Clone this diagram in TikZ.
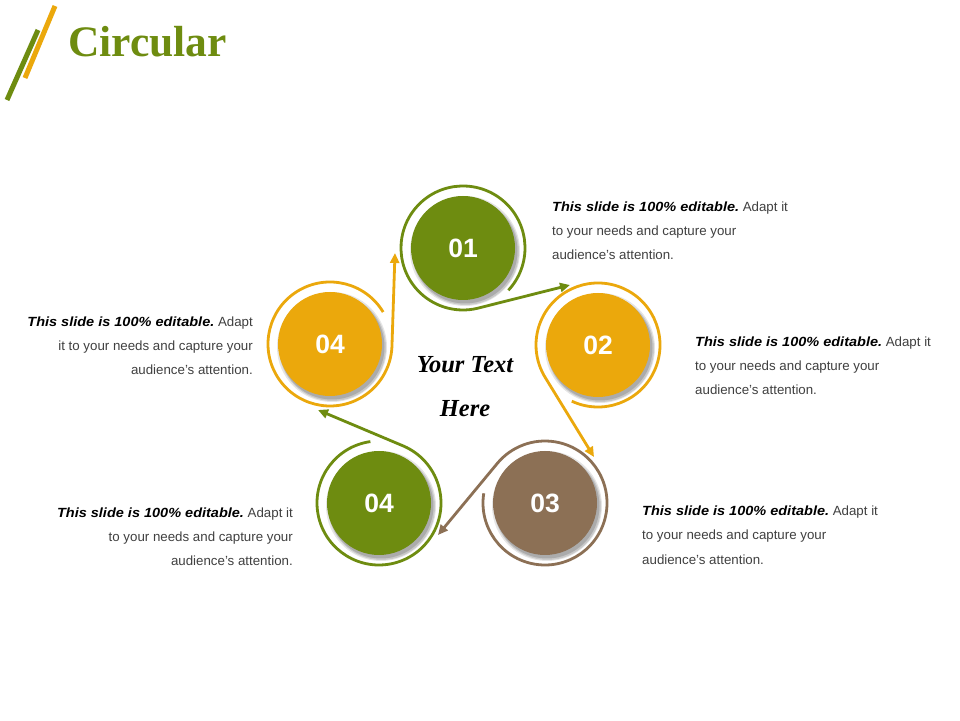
\documentclass[tikz,border=0pt]{standalone}
\usepackage{fontspec}
\usepackage{graphicx}
\setmainfont{Liberation Sans}
\newfontfamily\titlefont{Liberation Serif}
\usetikzlibrary{arrows.meta,calc}
\definecolor{cgreen}{RGB}{110,140,16}
\definecolor{corange}{RGB}{235,168,12}
\definecolor{cbrown}{RGB}{140,112,85}
\definecolor{ctext}{RGB}{64,64,64}
\tikzset{
  disc/.style={circle, inner sep=0pt, minimum size=104pt, text=white,
    font=\fontsize{26.5}{30}\selectfont\bfseries},
  ring/.style={line width=2.8pt},
  desc/.style={inner sep=0pt, text=ctext, font=\fontsize{13.3}{24}\selectfont},
  bar/.style={line width=5pt},
  centretext/.style={anchor=base, inner sep=0pt, font=\titlefont\fontsize{24.5}{28}\selectfont\bfseries\itshape},
}
\newcommand{\lead}{\textcolor{black}{\scalebox{1.09}[1]{\bfseries\itshape This slide is 100\% editable.}}}
\begin{document}
\begin{tikzpicture}[x=1pt,y=1pt]
\useasboundingbox (0,0) rectangle (960,720);
\fill[white] (0,0) rectangle (960,720);
% title
\draw[bar, cgreen] (7,620) -- (38,690);
\draw[bar, corange] (25,642) -- (55,714);
\node[anchor=base west, inner sep=0pt, text=cgreen, font=\titlefont\fontsize{43.5}{48}\selectfont\bfseries] (title) at (68,663) {Circular};
% centres
\coordinate (p1) at (463,472);
\coordinate (p2) at (598,375);
\coordinate (p3) at (545,217);
\coordinate (p4) at (379,217);
\coordinate (p5) at (330,376);
% shadows
\foreach \p in {p1,p2,p3,p4,p5}{
  \fill[black, opacity=0.10] ($(\p)+(2,-3)$) circle[radius=55];
  \fill[black, opacity=0.12] ($(\p)+(2.5,-3.5)$) circle[radius=53.5];
  \fill[black, opacity=0.15] ($(\p)+(2,-3)$) circle[radius=52.5];
}
% discs
\node[disc, fill=cgreen] (c1) at (p1) {01};
\node[disc, fill=corange] (c2) at (p2) {02};
\node[disc, fill=cbrown] (c3) at (p3) {03};
\node[disc, fill=cgreen] (c4) at (p4) {04};
\node[disc, fill=corange] (c5) at (p5) {04};
% arrow tips
\coordinate (t1) at (570,435);
\coordinate (t2) at (594,263);
\coordinate (t3) at (438,185);
\coordinate (t4) at (318,310);
\coordinate (t5) at (395,467);
% rings with connectors
\draw[ring, draw=cgreen, -{Triangle[length=10pt,width=9pt,fill=cgreen]}] ($(c1.center)+(-43:62)$) arc[start angle=-43, end angle=283.5, radius=62] -- (t1);
\draw[ring, draw=corange, -{Triangle[length=10pt,width=9pt,fill=corange]}] ($(c2.center)+(245:62)$) arc[start angle=245, end angle=572.7, radius=62] -- (t2);
\draw[ring, draw=cbrown, -{Triangle[length=10pt,width=9pt,fill=cbrown]}] ($(c3.center)+(171:62)$) arc[start angle=171, end angle=500, radius=62] -- (t3);
\draw[ring, draw=cgreen, -{Triangle[length=10pt,width=9pt,fill=cgreen]}] ($(c4.center)+(98:62)$) arc[start angle=98, end angle=427, radius=62] -- (t4);
\draw[ring, draw=corange, -{Triangle[length=10pt,width=9pt,fill=corange]}] ($(c5.center)+(31:62)$) arc[start angle=31, end angle=357, radius=62] -- (t5);
% centre text
\node[centretext] (yt) at (465,347) {Your Text};
\node[centretext] (here) at (465,303) {Here};
% descriptions
\node[desc, anchor=base west] (d1) at (552,508) {\parbox[t]{260pt}{\raggedright\lead{} Adapt it\\to your needs and capture your\\audience's attention.}};
\node[desc, anchor=base west] (d2) at (695,373) {\parbox[t]{260pt}{\raggedright\lead{} Adapt it\\to your needs and capture your\\audience's attention.}};
\node[desc, anchor=base west] (d3) at (642,204) {\parbox[t]{260pt}{\raggedright\lead{} Adapt it\\to your needs and capture your\\audience's attention.}};
\node[desc, anchor=base east] (d5) at (253,393) {\parbox[t]{260pt}{\raggedleft\lead{} Adapt\\it to your needs and capture your\\audience's attention.}};
\node[desc, anchor=base east] (d4) at (293,202) {\parbox[t]{260pt}{\raggedleft\lead{} Adapt it\\to your needs and capture your\\audience's attention.}};
\end{tikzpicture}
\end{document}
